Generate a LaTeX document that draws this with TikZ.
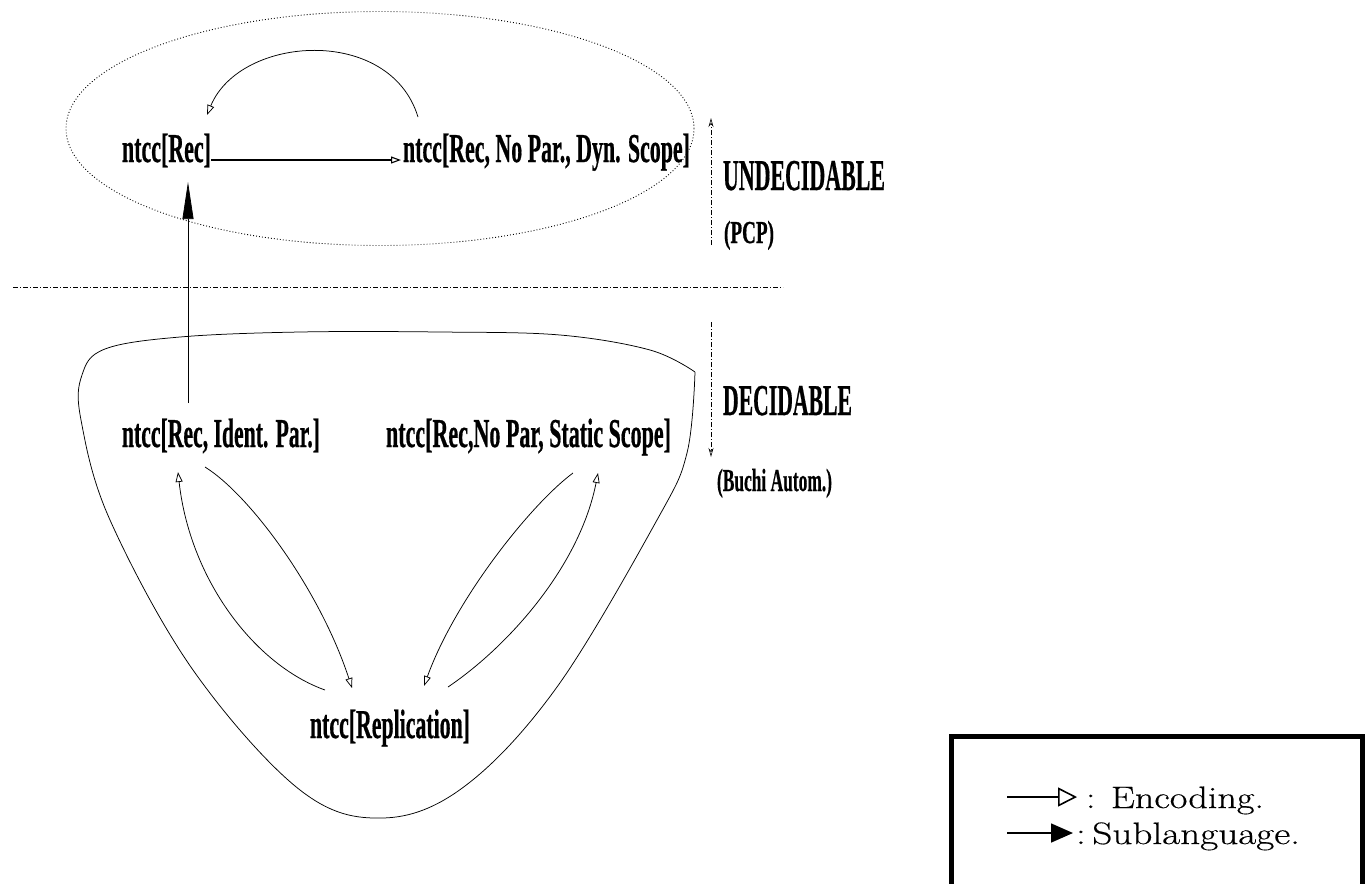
\documentclass[tikz,border=0pt]{standalone}
\usepackage{fontspec}
\usepackage{graphicx}
\newfontfamily\tms[BoldFeatures={FakeBold=0.8}]{Liberation Serif}
\newfontfamily\lmleg[FakeBold=0.4]{Latin Modern Roman}
\usetikzlibrary{arrows.meta,calc}
\newcommand{\mylab}[3]{\fontsize{#1}{#1}\selectfont\resizebox{#2pt}{\height}{#3}}
\begin{document}
\begin{tikzpicture}[x=1pt,y=-1pt,
  lbl/.style={anchor=base west,inner sep=0pt,outer sep=0pt,font=\tms\bfseries},
  leg/.style={anchor=base west,inner sep=0pt,outer sep=0pt,font=\lmleg},
  thinl/.style={line width=0.75pt},
  enc/.style={thinl,-{Triangle[open,length=10pt,width=7pt]}},
  sub/.style={thinl,-{Triangle[length=37pt,width=11pt]}},
  dd/.style={line width=0.6pt,dash pattern=on 5pt off 2pt on 1pt off 2pt},
  ddarrow/.style={dd,-{Stealth[open,length=9pt,width=5pt]}},
  dots/.style={line width=0.9pt,dash pattern=on 0.9pt off 2.1pt}
]
\clip (0,0) rectangle (1369,884);
\fill[white] (0,0) rectangle (1369,884);

% labels
\node[lbl] (rec) at (122,162) {\mylab{41}{89}{ntcc[Rec]}};
\node[lbl] (dyn) at (403,162) {\mylab{41}{287}{ntcc[Rec, No Par., Dyn. Scope]}};
\node[lbl] (ident) at (122,447) {\mylab{41}{198}{ntcc[Rec, Ident. Par.]}};
\node[lbl] (stat) at (386,447) {\mylab{41}{285}{ntcc[Rec,No Par, Static Scope]}};
\node[lbl] (repl) at (310,738) {\mylab{41}{160}{ntcc[Replication]}};
\node[lbl] (undec) at (723,190) {\mylab{44}{162}{UNDECIDABLE}};
\node[lbl] (pcp) at (724,243) {\mylab{32}{50}{(PCP)}};
\node[lbl] (dec) at (723,415) {\mylab{44}{129}{DECIDABLE}};
\node[lbl] (buchi) at (717,491) {\mylab{32}{115}{(Buchi Autom.)}};

% dotted ellipse (undecidable region)
\draw[dots] (380,128.5) ellipse [x radius=314, y radius=117];

% decidable region
\draw[thinl] plot[smooth,tension=0.6] coordinates {
 (695,372) (650,350) (560,335) (440,332) (300,332) (180,337) (105,349)
 (82,375) (81,420) (110,520) (193,670) (300,790)
 (383,818) (465,786) (557,687) (657,520) (687,453) (695,372)};

% separators
\coordinate (sepL) at (13,287);
\coordinate (sepR) at (783,287);
\draw[dd] (sepL) -- (sepR);
\coordinate (u1) at (711,245); \coordinate (u2) at (711,118);
\coordinate (d1) at (711,322); \coordinate (d2) at (711,457);
\draw[ddarrow] (u1) -- (u2);
\draw[ddarrow] (d1) -- (d2);

% connectors
\coordinate (h1) at (211,160); \coordinate (h2) at (401,160);
\draw[enc,line width=1.1pt] (h1) -- (h2);
\coordinate (t1) at (418,117); \coordinate (t2) at (207,115);
\draw[enc] (t1) .. controls (390,25) and (240,35) .. (t2);
\coordinate (s1) at (188,403); \coordinate (s2) at (188,182);
\draw[sub] (s1) -- (s2);

\coordinate (a1s) at (325,690); \coordinate (a1e) at (178,472);
\draw[enc] (a1s) .. controls (255,665) and (190,580) .. (a1e);
\coordinate (a2s) at (205,467); \coordinate (a2e) at (352,688);
\draw[enc] (a2s) .. controls (250,495) and (320,590) .. (a2e);
\coordinate (a3s) at (573,473); \coordinate (a3e) at (424,686);
\draw[enc] (a3s) .. controls (530,505) and (455,600) .. (a3e);
\coordinate (a4s) at (448,687); \coordinate (a4e) at (598,473);
\draw[enc] (a4s) .. controls (510,645) and (580,565) .. (a4e);

% legend
\draw[line width=5pt] (951,736) rectangle (1362,900);
\coordinate (e1s) at (1007,797); \coordinate (e1e) at (1077,797);
\draw[line width=1.6pt,-{Triangle[open,length=19pt,width=19pt]}] (e1s) -- (e1e);
\coordinate (e2s) at (1007,833); \coordinate (e2e) at (1073,833);
\draw[line width=1.6pt,-{Triangle[length=22pt,width=19pt]}] (e2s) -- (e2e);
\node[leg] (encl) at (1086,808) {\mylab{31}{178}{: Encoding.}};
\node[leg] (subl) at (1076,844) {\mylab{31}{224}{:\,Sublanguage.}};
\end{tikzpicture}
\end{document}
